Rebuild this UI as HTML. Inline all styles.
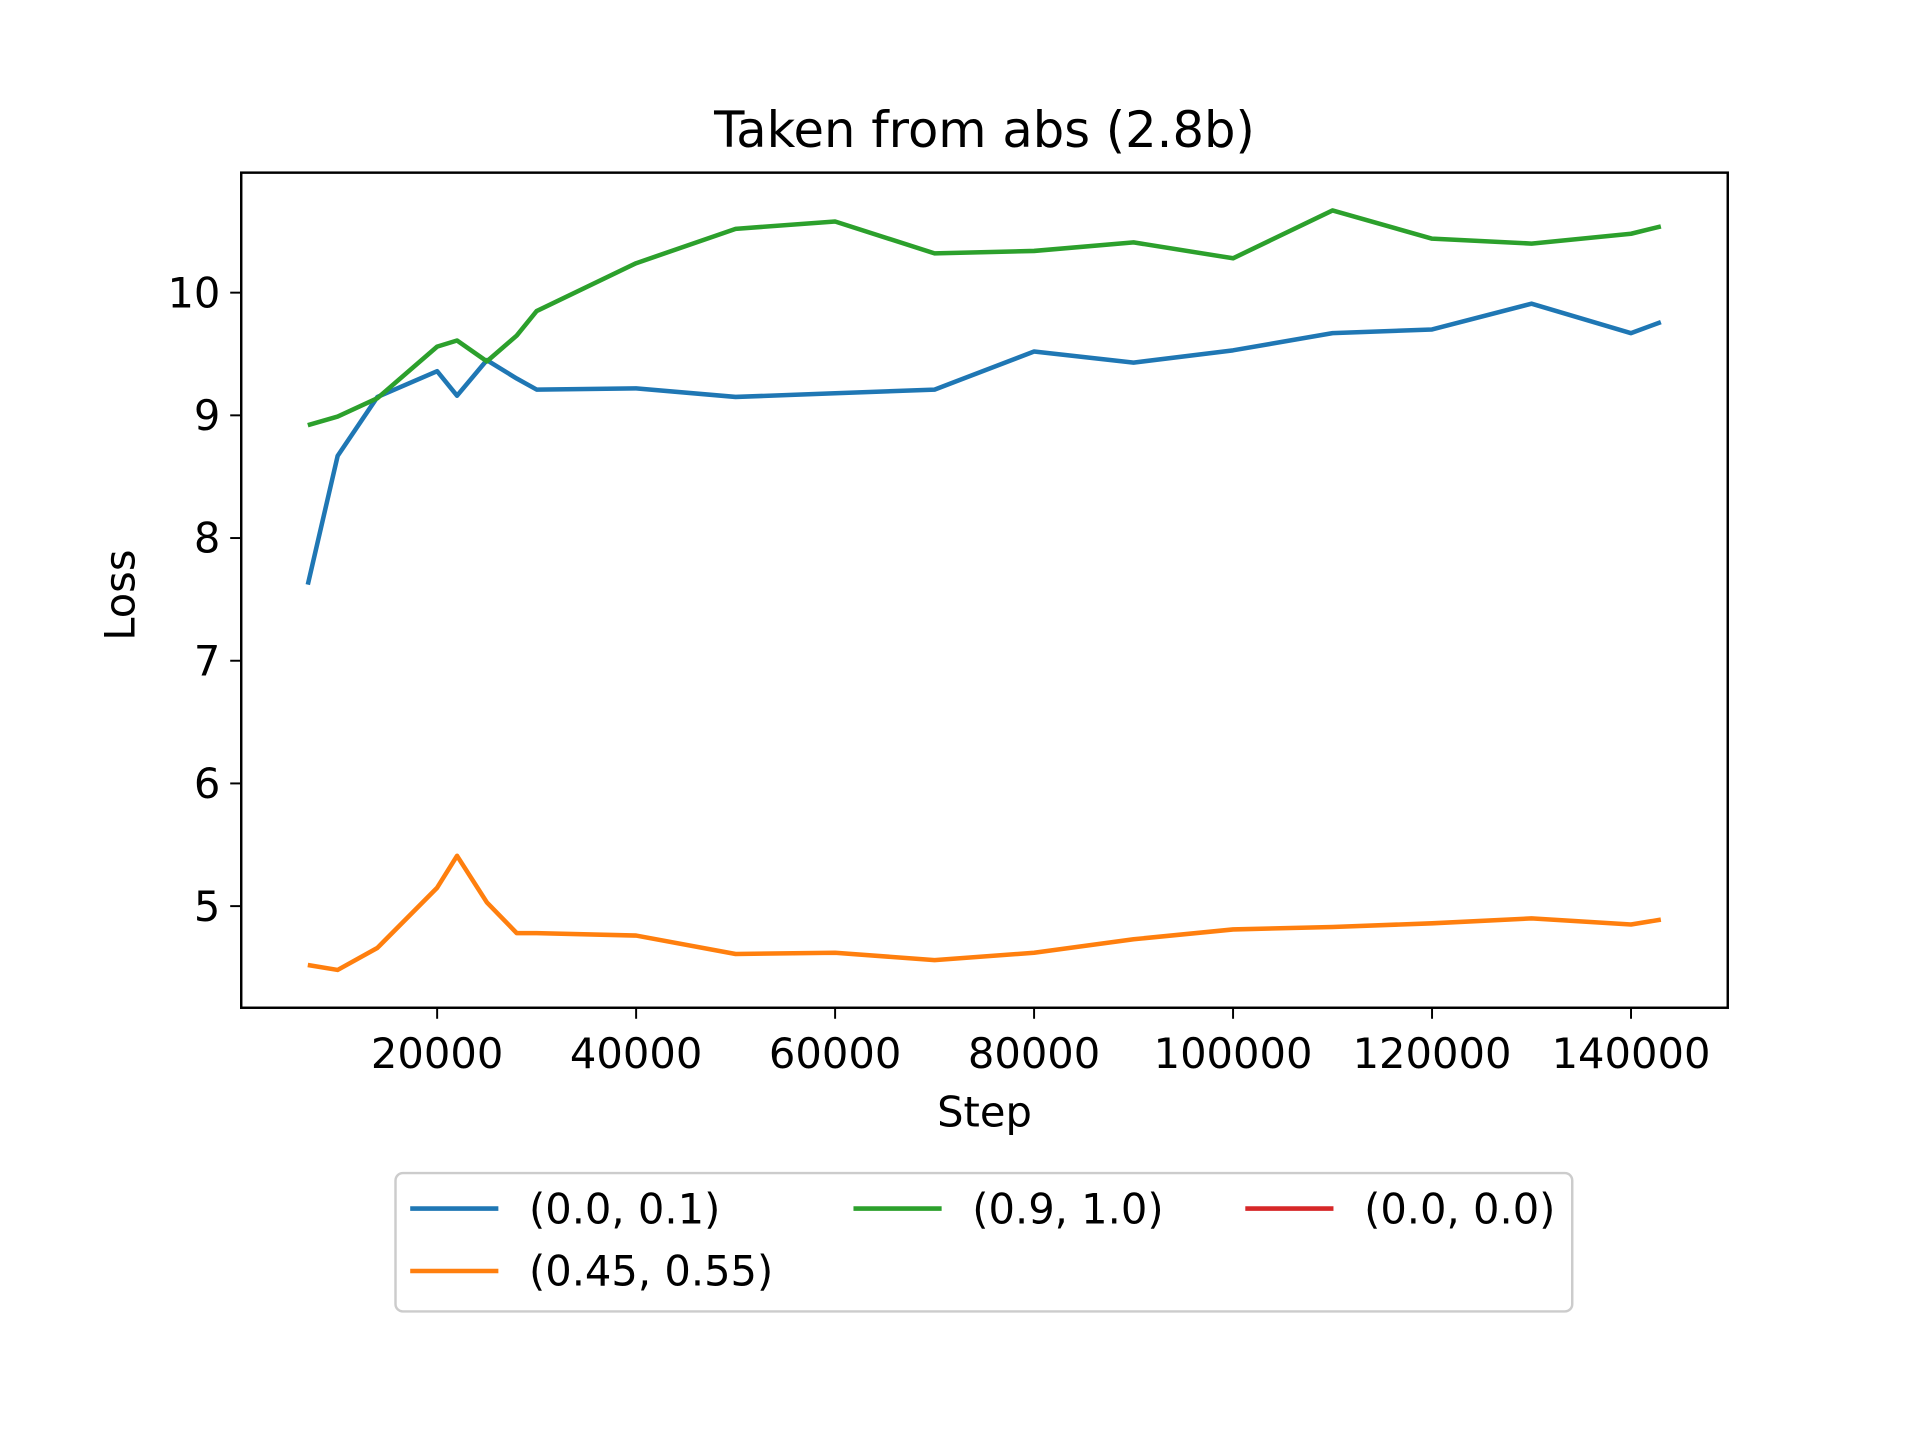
<!DOCTYPE html>
<html><head><meta charset="utf-8"><style>
html,body{margin:0;padding:0;background:#fff;}
svg{display:block;}
text{font-family:"DejaVu Sans","Liberation Sans",sans-serif;fill:#000;}
</style></head><body>
<svg id="chart" width="1920" height="1440" viewBox="0 0 1568 1176" preserveAspectRatio="none" xmlns="http://www.w3.org/2000/svg">
<rect x="0" y="0" width="1568" height="1176" fill="#fff"/>
<text x="804" y="120" font-size="40.5" text-anchor="middle">Taken from abs (2.8b)</text>
<g id="axes"></g>
<g id="series"></g>
<rect x="197" y="141" width="1214" height="682" fill="none" stroke="#000" stroke-width="2"/>
<text x="804" y="920" font-size="34" text-anchor="middle">Step</text>
<text x="0" y="0" font-size="34" text-anchor="middle" transform="translate(110,486) rotate(-90)">Loss</text>
<g id="legend">
<rect x="323" y="958" width="961" height="113" rx="6" fill="#fff" stroke="#ccc" stroke-width="2"/>
</g>
</svg>
<script>
const steps = [7000,10000,14000,20000,22000,25000,28000,30000,40000,50000,60000,70000,80000,90000,100000,110000,120000,130000,140000,143000];
const seriesBlue = [7.62,8.67,9.15,9.36,9.16,9.45,9.3,9.21,9.22,9.15,9.18,9.21,9.52,9.43,9.53,9.67,9.7,9.91,9.67,9.76];
const seriesOrange = [4.52,4.48,4.66,5.15,5.41,5.03,4.78,4.78,4.76,4.61,4.62,4.56,4.62,4.73,4.81,4.83,4.86,4.9,4.85,4.89];
const seriesGreen = [8.92,8.99,9.14,9.56,9.61,9.44,9.65,9.85,10.24,10.52,10.58,10.32,10.34,10.41,10.28,10.67,10.44,10.4,10.48,10.54];
const seriesRed = [];
const xTicks = [20000,40000,60000,80000,100000,120000,140000];
const yTicks = [5,6,7,8,9,10];
const legendLabels = ["(0.0, 0.1)","(0.45, 0.55)","(0.9, 1.0)","(0.0, 0.0)"];

const NS="http://www.w3.org/2000/svg";
function xS(v){return 194.5 + v*162.5/20000;}
function yS(v){return 740 - (v-5)*100.2;}
function mk(tag,attrs,parent){const e=document.createElementNS(NS,tag);for(const k in attrs)e.setAttribute(k,attrs[k]);parent.appendChild(e);return e;}
const axes=document.getElementById('axes');
xTicks.forEach(t=>{
  const l=mk('line',{x1:xS(t),x2:xS(t),y1:823,y2:832,stroke:'#000','stroke-width':1.6},axes);
  
  
  const tx=mk('text',{x:xS(t),y:872,'font-size':34,'text-anchor':'middle'},axes);
  tx.textContent=t;
  
  
});
yTicks.forEach(t=>{
  const l=mk('line',{x1:188,x2:197,y1:yS(t),y2:yS(t),stroke:'#000','stroke-width':1.6},axes);
  
  
  const tx=mk('text',{x:180,y:yS(t)+12,'font-size':34,'text-anchor':'end'},axes);
  tx.textContent=t;
  
  
});
const sg=document.getElementById('series');
function drawLine(vals,color,name){
  if(!vals.length)return;
  const p=mk('polyline',{points:vals.map((v,i)=>xS(steps[i])+','+yS(v)).join(' '),fill:'none',stroke:color,'stroke-width':3.7,'stroke-linejoin':'round'},sg);
  
  
}
drawLine(seriesBlue,'#1f77b4','series-0-0-0-1');
drawLine(seriesOrange,'#ff7f0e','series-0-45-0-55');
drawLine(seriesGreen,'#2ca02c','series-0-9-1-0');
drawLine(seriesRed,'#d62728','series-0-0-0-0');
const lg=document.getElementById('legend');
const entries=[[335,987,'#1f77b4',legendLabels[0]],[335,1038,'#ff7f0e',legendLabels[1]],[697,987,'#2ca02c',legendLabels[2]],[1017,987,'#d62728',legendLabels[3]]];
entries.forEach(e=>{
  const g=mk('g',{},lg);
  
  
  mk('line',{x1:e[0],x2:e[0]+72,y1:e[1],y2:e[1],stroke:e[2],'stroke-width':3.7},g);
  const t=mk('text',{x:e[0]+97,y:e[1]+12,'font-size':34},g);
  t.textContent=e[3];
});
</script>
</body></html>
